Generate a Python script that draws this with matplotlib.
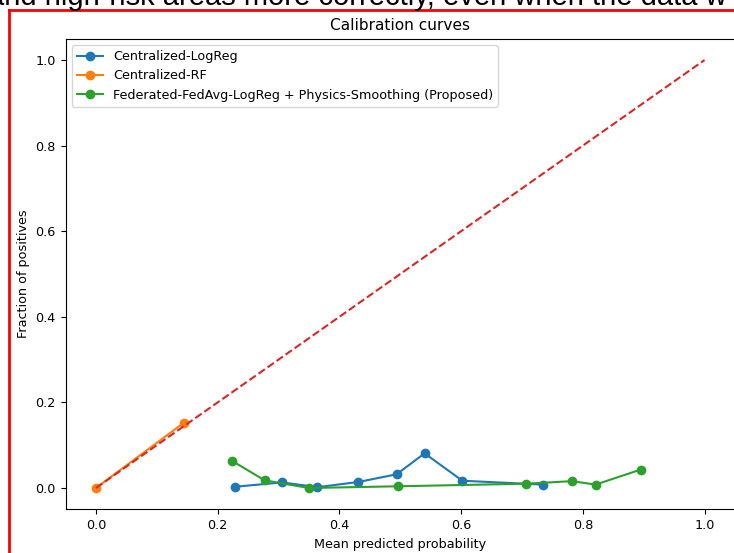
import matplotlib
matplotlib.use("Agg")
import matplotlib.pyplot as plt
from matplotlib.lines import Line2D

# calibration curves
logreg_x = [0.229, 0.306, 0.364, 0.431, 0.494, 0.540, 0.602, 0.734]
logreg_y = [0.003, 0.013, 0.002, 0.014, 0.032, 0.081, 0.017, 0.008]

rf_x = [0.0, 0.145]
rf_y = [0.0, 0.153]

fed_x = [0.223, 0.277, 0.350, 0.496, 0.706, 0.782, 0.821, 0.895]
fed_y = [0.064, 0.018, 0.000, 0.004, 0.010, 0.016, 0.008, 0.043]

labels = [
    "Centralized-LogReg",
    "Centralized-RF",
    "Federated-FedAvg-LogReg + Physics-Smoothing (Proposed)",
]

plt.rcParams["font.size"] = 9.2

W, H = 734, 553
fig = plt.figure(figsize=(W / 100, H / 100), dpi=100)

# axes placed in pixels so the crop matches the screenshot
left, right, top, bottom = 65.5, 735.0, 38.6, 509.4
ax = fig.add_axes([left / W, 1 - bottom / H, (right - left) / W, (bottom - top) / H])

ax.plot(logreg_x, logreg_y, marker="o", label=labels[0])
ax.plot(rf_x, rf_y, marker="o", label=labels[1])
ax.plot(fed_x, fed_y, marker="o", label=labels[2])
ax.plot([0, 1], [0, 1], "--", color="tab:red")

ax.set_xlim(-0.05, 1.05)
ax.set_ylim(-0.05, 1.05)
ax.set_title("Calibration curves")
ax.set_xlabel("Mean predicted probability")
ax.set_ylabel("Fraction of positives")
ax.legend(loc="upper left")

# screenshot frame and the clipped page text above it
fig.add_artist(Line2D([9 / W, 9 / W], [0, 1 - 10 / H], color="red", lw=2))
fig.add_artist(Line2D([9 / W, 1], [1 - 10 / H, 1 - 10 / H], color="red", lw=2))
fig.text(-12 / W, 1 - 5 / H, "and high-risk areas more correctly, even when the data w",
         fontsize=21, family="Liberation Sans", va="baseline", ha="left")

fig.savefig("out.png", dpi=100)
